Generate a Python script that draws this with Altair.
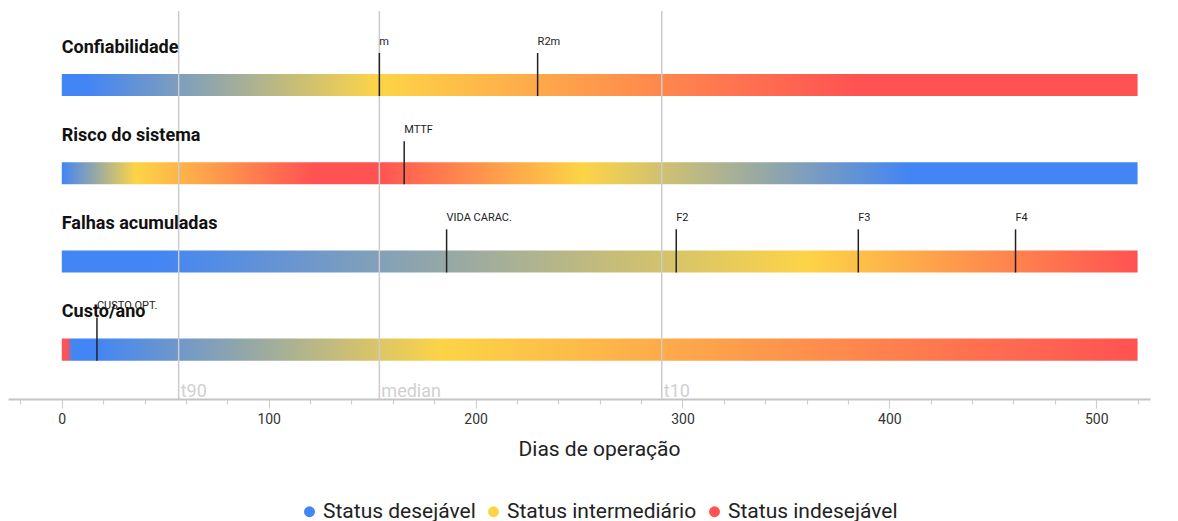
import altair as alt
import pandas as pd

# ---------------- data ----------------
rows = ["Confiabilidade", "Risco do sistema", "Falhas acumuladas", "Custo/ano"]

status_names = ["Status desejável", "Status intermediário", "Status indesejável"]
status_colors = ["#4285F4", "#FDD446", "#FF5252"]

bar_start = 0
bar_end = 520

# gradient stops per row: day of the stop and status index (0 desejável, 1 intermediário, 2 indesejável)
conf_stop_days = [0, 12, 153, 385, 520]
conf_stop_status = [0, 0, 1, 2, 2]

risco_stop_days = [0, 36, 122, 152, 252, 410, 520]
risco_stop_status = [0, 1, 2, 2, 1, 0, 0]

falhas_stop_days = [0, 45, 360, 520]
falhas_stop_status = [0, 0, 1, 2]

custo_stop_days = [0, 2.5, 5, 16, 184, 520]
custo_stop_status = [2, 2, 0, 0, 1, 2]

marker_rows = [0, 0, 1, 2, 2, 2, 2, 3]
marker_labels = ["m", "R2m", "MTTF", "VIDA CARAC.", "F2", "F3", "F4", "CUSTO OPT."]
marker_days = [153.5, 230, 165.5, 186, 297, 385, 461, 17]

ref_labels = ["t90", "median", "t10"]
ref_days = [56.5, 153.5, 290]

tick_values = list(range(-20, 521, 20))

# ---------------- scales ----------------
W, H = 1142, 388
y_min, y_max = -0.84, 3.56
xscale = alt.Scale(domain=[-26, 526], nice=False, zero=False)
yscale = alt.Scale(domain=[y_min, y_max], reverse=True, nice=False, zero=False)

xaxis = alt.Axis(
    values=tick_values,
    labelExpr="datum.value % 100 === 0 ? datum.label : ''",
    tickSize={"condition": {"test": "datum.value % 100 === 0", "value": 9}, "value": 5},
    tickColor="#cfcfcf",
    tickWidth=1.2,
    domainColor="#c4c4c4",
    domainWidth=2,
    grid=False,
    labelFont="Roboto",
    labelFontSize=14,
    labelColor="#333333",
    labelPadding=4,
    labelOverlap=False,
    labelFlush=False,
    title="Dias de operação",
    titleFont="Roboto",
    titleFontSize=21,
    titleFontWeight="normal",
    titleColor="#222222",
    titlePadding=12,
    titleX=591,
    titleAlign="center",
)


def X(field):
    return alt.X(field, type="quantitative", scale=xscale, axis=xaxis, title="Dias de operação")


def Y(field):
    return alt.Y(field, type="quantitative", scale=yscale, axis=None)


# ---------------- bars with gradients ----------------
stop_sets = [
    (conf_stop_days, conf_stop_status),
    (risco_stop_days, risco_stop_status),
    (falhas_stop_days, falhas_stop_status),
    (custo_stop_days, custo_stop_status),
]

layers = []
for i, (days, levels) in enumerate(stop_sets):
    stops = [
        alt.GradientStop(offset=(d - bar_start) / (bar_end - bar_start), color=status_colors[l])
        for d, l in zip(days, levels)
    ]
    grad = alt.LinearGradient(gradient="linear", stops=stops, x1=0, x2=1, y1=0, y2=0)
    df = pd.DataFrame({"row": [i], "start": [bar_start], "end": [bar_end]})
    layers.append(
        alt.Chart(df)
        .mark_rect(fill=grad)
        .transform_calculate(y0="datum.row - 0.125", y1="datum.row + 0.125")
        .encode(x=X("start"), x2="end:Q", y=Y("y0"), y2="y1:Q")
    )

# ---------------- row titles ----------------
title_df = pd.DataFrame({"row": list(range(len(rows))), "name": rows, "day": [bar_start] * len(rows)})
titles = (
    alt.Chart(title_df)
    .mark_text(align="left", baseline="middle", font="Roboto", fontSize=18, fontWeight="bold", color="#111111")
    .transform_calculate(ty="datum.row - 0.425")
    .encode(x=X("day"), y=Y("ty"), text="name:N")
)

# ---------------- markers ----------------
marker_df = pd.DataFrame({"row": marker_rows, "label": marker_labels, "day": marker_days})
marker_lines = (
    alt.Chart(marker_df)
    .mark_rule(color="#222222", strokeWidth=1.5)
    .transform_calculate(top="datum.row - 0.364", bot="datum.row + 0.125")
    .encode(x=X("day"), y=Y("top"), y2="bot:Q")
)
marker_text = (
    alt.Chart(marker_df)
    .mark_text(align="left", baseline="middle", font="Roboto", fontSize=11, color="#222222")
    .transform_calculate(ly="datum.row - 0.49")
    .encode(x=X("day"), y=Y("ly"), text="label:N")
)

# ---------------- reference lines ----------------
ref_df = pd.DataFrame({"label": ref_labels, "day": ref_days, "ybase": [y_max] * len(ref_days)})
ref_rules = (
    alt.Chart(ref_df)
    .mark_rule(color="#cccccc", strokeWidth=1.5)
    .encode(x=X("day"))
)
ref_text = (
    alt.Chart(ref_df)
    .mark_text(align="left", baseline="bottom", dx=2, dy=2, font="Roboto", fontSize=18, color="#d0d0d0")
    .encode(x=X("day"), y=Y("ybase"), text="label:N")
)

# ---------------- legend ----------------
legend_df = pd.DataFrame({"status": status_names, "day": [bar_start] * 3, "yy": [0] * 3})
legend_layer = (
    alt.Chart(legend_df)
    .mark_circle(opacity=0)
    .encode(
        x=X("day"),
        y=Y("yy"),
        color=alt.Color(
            "status:N",
            scale=alt.Scale(domain=status_names, range=status_colors),
            sort=status_names,
            legend=alt.Legend(
                orient="none",
                legendX=291,
                legendY=490,
                direction="horizontal",
                title=None,
                symbolType="circle",
                symbolSize=120,
                symbolOpacity=1,
                symbolStrokeWidth=0,
                labelFont="Roboto",
                labelFontSize=21,
                labelColor="#222222",
                labelOffset=3,
                labelLimit=0,
                columnPadding=7,
            ),
        ),
    )
)

chart = (
    alt.layer(*layers, ref_rules, marker_lines, titles, marker_text, ref_text, legend_layer)
    .properties(width=W, height=H, padding={"left": 0, "top": 2, "right": 10, "bottom": 0})
    .configure_view(stroke=None)
)

chart.save("out.html", embed_options={"renderer": "svg", "actions": False})
